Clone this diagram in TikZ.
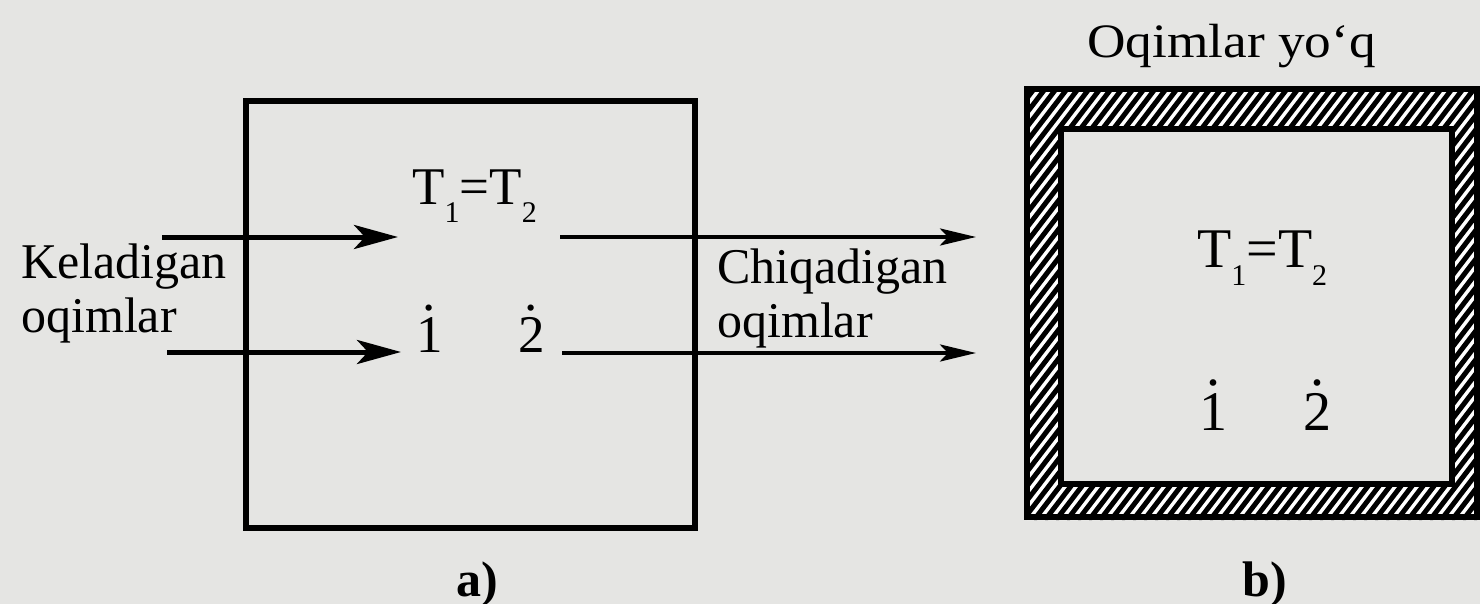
\documentclass[tikz,border=0pt]{standalone}
\usepackage{fontspec}
\setmainfont{Liberation Serif}
\usetikzlibrary{arrows.meta}
\definecolor{bg}{RGB}{229,229,227}
\newcommand{\dotnum}[1]{\ooalign{#1\cr\hidewidth\raisebox{0.79em}{.}\hidewidth\cr}}
\newcommand{\tsub}[1]{\raisebox{-0.33em}{\fontsize{30}{30}\selectfont #1}}
\tikzset{
  lbl/.style={inner sep=0pt, anchor=base west, font=\fontsize{50}{54}\selectfont},
  sym/.style={inner sep=0pt, anchor=base west, font=\fontsize{53}{60}\selectfont},
  symb/.style={inner sep=0pt, anchor=base west, font=\fontsize{56}{60}\selectfont},
  captxt/.style={inner sep=0pt, anchor=base, font=\fontsize{48}{54}\selectfont},
  inarrow/.style={line width=5pt, -{Stealth[length=44pt,width=24pt,inset=11pt]}},
  outarrow/.style={line width=4pt, -{Stealth[length=36pt,width=17pt,inset=8pt]}},
  sysbox/.style={draw, line width=6pt, inner sep=0pt},
}
\begin{document}
\begin{tikzpicture}[x=1pt,y=-1pt]
\useasboundingbox (0,0) rectangle (1480,604);
\fill[bg] (0,0) rectangle (1480,604);

% ---- a) open system
\node[sysbox, minimum width=449pt, minimum height=427pt] (boxa) at (470.5,314.5) {};
\node[sym] (ta) at (412,205) {T\tsub{1}=T\tsub{2}};
\node[sym] (ia) at (416,352) {\dotnum{1}};
\node[sym] (ja) at (518,352) {\dotnum{2}};

\node[lbl] (kel1) at (21,278) {Keladigan};
\node[lbl] (kel2) at (21,332) {oqimlar};
\node[lbl] (chi1) at (717,283) {Chiqadigan};
\node[lbl] (chi2) at (717,337) {oqimlar};

\coordinate (in1s) at (162,237);
\coordinate (in1e) at (398,237);
\coordinate (in2s) at (167,352);
\coordinate (in2e) at (401,352);
\coordinate (out1s) at (560,237);
\coordinate (out1e) at (976,237);
\coordinate (out2s) at (562,353);
\coordinate (out2e) at (976,353);
\draw[inarrow] (in1s) -- (in1e);
\draw[inarrow] (in2s) -- (in2e);
\draw[outarrow] (out1s) -- (out1e);
\draw[outarrow] (out2s) -- (out2e);

\node[captxt, font=\fontsize{50}{54}\selectfont\bfseries] (capa) at (477,596) {a)};

% ---- b) isolated system
\begin{scope}
  \clip (1027,89) rectangle (1480,129)
        (1027,484) rectangle (1480,520)
        (1027,89) rectangle (1061,520)
        (1452,89) rectangle (1480,520);
  \fill[white] (1020,80) rectangle (1480,525);
  \foreach \i in {-400,-389,...,520} {
    \draw[line width=5pt] (1027+\i,520) -- (1027+\i+330,89);
  }
\end{scope}
\draw[line width=6pt] (1027,89) rectangle (1477,517);
\draw[line width=6pt, fill=bg] (1061,129) rectangle (1452,484);
\node[captxt, anchor=base west] (none) at (1087,58) {\scalebox{1.11}[1]{Oqimlar yo‘q}};
\node[symb] (tb) at (1197,267) {T\tsub{1}=T\tsub{2}};
\node[symb] (ib) at (1199,430) {\dotnum{1}};
\node[symb] (jb) at (1303,430) {\dotnum{2}};
\node[captxt, font=\fontsize{50}{54}\selectfont\bfseries] (capb) at (1265,596) {b)};
\end{tikzpicture}
\end{document}
